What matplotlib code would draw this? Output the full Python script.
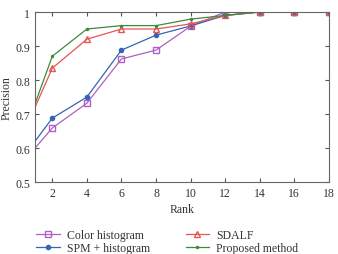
import matplotlib.pyplot as plt

plt.rcParams['font.family'] = ['Liberation Serif', 'DejaVu Serif']

rank = [1, 2, 4, 6, 8, 10, 12, 14, 16, 18]
color_hist = [0.60, 0.659, 0.732, 0.862, 0.888, 0.958, 1.0, 1.0, 1.0, 1.0]
spm_hist = [0.62, 0.688, 0.75, 0.888, 0.932, 0.959, 0.99, 1.0, 1.0, 1.0]
sdalf = [0.72, 0.835, 0.92, 0.95, 0.95, 0.965, 0.99, 1.0, 1.0, 1.0]
proposed = [0.73, 0.87, 0.95, 0.96, 0.96, 0.979, 0.99, 1.0, 1.0, 1.0]

fig = plt.figure(figsize=(3.38, 2.55), dpi=100)
ax = fig.add_axes([0.1036, 0.282, 0.8694, 0.667])

skip = slice(1, None)
ax.plot(rank, color_hist, color='#b060c0', marker='s', ms=4, mfc='none', lw=0.9, markevery=skip, label='Color histogram')
ax.plot(rank, spm_hist, color='#3565b5', marker='o', ms=3, lw=0.9, markevery=skip, label='SPM + histogram')
ax.plot(rank, sdalf, color='#e85555', marker='^', ms=4, mfc='none', lw=0.9, markevery=skip, label='SDALF')
ax.plot(rank, proposed, color='#3f8a3f', marker='.', ms=3, lw=0.9, markevery=skip, label='Proposed method')

ax.set_xlim(1, 18)
ax.set_ylim(0.5, 1)
ax.set_xticks([2, 4, 6, 8, 10, 12, 14, 16, 18])
ax.set_yticks([0.5, 0.6, 0.7, 0.8, 0.9, 1])
ax.set_yticklabels(['0.5', '0.6', '0.7', '0.8', '0.9', '1'])
ax.tick_params(direction='in', top=True, right=True, labelsize=8.5, colors='#555555', labelcolor='#333333', length=3)
for s in ax.spines.values():
    s.set_color('#666666')
ax.set_xlabel('Rank', fontsize=8.5, color='#333333', labelpad=3)
ax.set_ylabel('Precision', fontsize=8.5, color='#333333', labelpad=2)

fig.legend(loc='upper left', bbox_to_anchor=(0.09, 0.12), ncol=2, frameon=False,
           fontsize=8.5, handlelength=2, handletextpad=0.6, columnspacing=3.0, labelspacing=0.05,
           borderpad=0, labelcolor='#333333')

fig.savefig('out.png', dpi=100)
